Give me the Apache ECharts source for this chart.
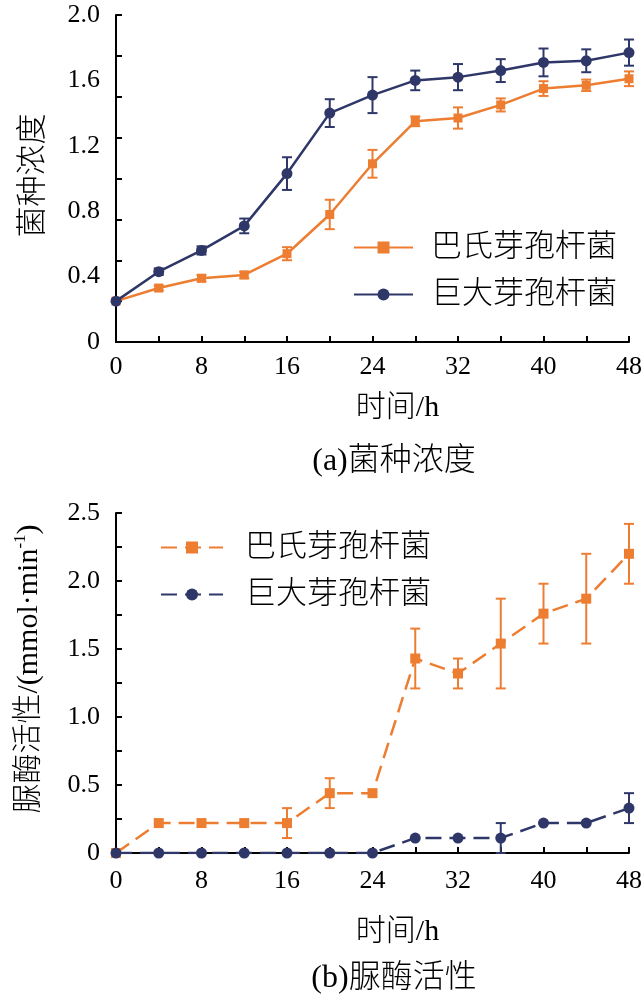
<!DOCTYPE html>
<html>
<head>
    <meta charset="utf-8">
    <title>菌种浓度与脲酶活性</title>
    <script src="https://cdn.jsdelivr.net/npm/echarts@6/dist/echarts.min.js"></script>
    <style>
        html, body { margin: 0; padding: 0; background: #fff; }
    </style>
</head>
<body>
    <div id="main" style="width: 644px; height: 1002px;"></div>
    <script type="text/javascript">
        var myChart = echarts.init(document.getElementById('main'));

        // 时间 (h)
        var hours = [0, 4, 8, 12, 16, 20, 24, 28, 32, 36, 40, 44, 48];
        var seriesNames = ['巴氏芽孢杆菌', '巨大芽孢杆菌'];

        // (a) 菌种浓度
        var growthPasteurii = [0.25, 0.33, 0.39, 0.41, 0.54, 0.78, 1.09, 1.35, 1.37, 1.45, 1.55, 1.57, 1.61];
        var growthPasteuriiErr = [0, 0.015, 0.02, 0.02, 0.04, 0.09, 0.085, 0.03, 0.065, 0.04, 0.045, 0.035, 0.045];
        var growthMegaterium = [0.25, 0.43, 0.56, 0.71, 1.03, 1.40, 1.51, 1.60, 1.62, 1.66, 1.71, 1.72, 1.77];
        var growthMegateriumErr = [0, 0.02, 0.025, 0.045, 0.10, 0.085, 0.11, 0.06, 0.08, 0.07, 0.085, 0.07, 0.08];

        // (b) 脲酶活性
        var ureasePasteurii = [0, 0.22, 0.22, 0.22, 0.22, 0.44, 0.44, 1.43, 1.32, 1.54, 1.76, 1.87, 2.20];
        var ureasePasteuriiErr = [0, 0, 0, 0, 0.11, 0.11, 0, 0.22, 0.11, 0.33, 0.22, 0.33, 0.22];
        var ureaseMegaterium = [0, 0, 0, 0, 0, 0, 0, 0.11, 0.11, 0.11, 0.22, 0.22, 0.33];
        var ureaseMegateriumErr = [0, 0, 0, 0, 0, 0, 0, 0, 0, 0.11, 0, 0, 0.11];

        var ORANGE = '#ED7D31';
        var NAVY = '#2E3768';
        var SERIF = "'Liberation Serif', 'Noto Sans CJK SC', serif";
        var CJK = "'Liberation Serif', 'Noto Sans CJK SC', sans-serif";

        function pairs(ys) {
            return hours.map(function (h, i) { return [h, ys[i]]; });
        }
        function errData(ys, es) {
            var out = [];
            hours.forEach(function (h, i) {
                if (es[i] > 0) out.push([h, ys[i], es[i]]);
            });
            return out;
        }
        function errRender(color) {
            return function (params, api) {
                var x = api.value(0), y = api.value(1), e = api.value(2);
                var hi = api.coord([x, y + e]);
                var lo = api.coord([x, y - e]);
                var w = 5;
                var st = { stroke: color, lineWidth: 2 };
                return {
                    type: 'group',
                    children: [
                        { type: 'line', shape: { x1: hi[0], y1: hi[1], x2: lo[0], y2: lo[1] }, style: st },
                        { type: 'line', shape: { x1: hi[0] - w, y1: hi[1], x2: hi[0] + w, y2: hi[1] }, style: st },
                        { type: 'line', shape: { x1: lo[0] - w, y1: lo[1], x2: lo[0] + w, y2: lo[1] }, style: st }
                    ]
                };
            };
        }
        function numFmt(v) {
            return v === 0 ? '0' : v.toFixed(1);
        }

        var labelStyle = { color: '#000', fontSize: 26, fontFamily: SERIF };
        var lineAx = { show: true, onZero: false, lineStyle: { color: '#000', width: 2 } };

        function xAxisFor(gi, gap, margin) {
            return {
                type: 'value', gridIndex: gi, min: 0, max: 48, interval: 8,
                axisLine: lineAx,
                axisTick: { show: true, inside: true, length: 6, lineStyle: { color: '#000', width: 2 } },
                minorTick: { show: true, splitNumber: 2, length: 6, lineStyle: { color: '#000', width: 2 } },
                axisLabel: Object.assign({ margin: margin }, labelStyle),
                splitLine: { show: false },
                name: '时间/h', nameLocation: 'middle', nameGap: gap,
                nameTextStyle: { color: '#000', fontSize: 30, fontFamily: CJK, fontWeight: 300, padding: [0, 0, 0, 50] }
            };
        }

        var option = {
            animation: false,
            backgroundColor: '#fff',
            textStyle: { fontFamily: CJK },
            grid: [
                { left: 116, right: 15, top: 15, height: 327, containLabel: false, outerBoundsMode: 'none' },
                { left: 116, right: 15, top: 513, height: 340, containLabel: false, outerBoundsMode: 'none' }
            ],
            xAxis: [xAxisFor(0, 51, 12), xAxisFor(1, 64, 15)],
            yAxis: [
                // (a) line + ticks every 0.25
                {
                    type: 'value', gridIndex: 0, min: 0, max: 2, interval: 0.25,
                    axisLine: lineAx,
                    axisTick: { show: true, inside: true, length: 6, lineStyle: { color: '#000', width: 2 } },
                    axisLabel: { show: false },
                    splitLine: { show: false },
                    name: '菌种浓度', nameLocation: 'middle', nameGap: 67, nameRotate: 90,
                    nameTextStyle: { color: '#000', fontSize: 31, fontFamily: CJK, fontWeight: 300, padding: [0, 0, 0, 6] }
                },
                // (a) labels every 0.4
                {
                    type: 'value', gridIndex: 0, min: 0, max: 2, interval: 0.4, position: 'left',
                    axisLine: { show: false }, axisTick: { show: false },
                    axisLabel: Object.assign({ margin: 16, formatter: numFmt }, labelStyle),
                    splitLine: { show: false }
                },
                // (b)
                {
                    type: 'value', gridIndex: 1, min: 0, max: 2.5, interval: 0.5,
                    axisLine: lineAx,
                    axisTick: { show: true, inside: true, length: 6, lineStyle: { color: '#000', width: 2 } },
                    minorTick: { show: true, splitNumber: 2, length: 6, lineStyle: { color: '#000', width: 2 } },
                    axisLabel: Object.assign({ margin: 16, formatter: numFmt }, labelStyle),
                    splitLine: { show: false },
                    name: '{a|脲酶活性/(mmol·min}{s|-1}{a|)}', nameLocation: 'middle', nameGap: 70, nameRotate: 90,
                    nameTextStyle: {
                        color: '#000', fontFamily: CJK, padding: [0, 0, 0, 28],
                        rich: {
                            a: { fontSize: 30, fontWeight: 300, color: '#000', fontFamily: CJK, lineHeight: 34 },
                            s: { fontSize: 17, color: '#000', fontFamily: SERIF, verticalAlign: 'top', lineHeight: 34 }
                        }
                    }
                }
            ],
            legend: [
                {
                    data: seriesNames.slice(),
                    orient: 'vertical', left: 348, top: 227,
                    itemWidth: 59, itemHeight: 15, itemGap: 16,
                    textStyle: { color: '#000', fontSize: 31, fontFamily: CJK, fontWeight: 300, padding: [0, 0, 0, 13] },
                    selectedMode: false
                },
                {
                    data: seriesNames.map(function (n) { return n + ' '; }),
                    orient: 'vertical', left: 155, top: 527,
                    itemWidth: 62, itemHeight: 15, itemGap: 16,
                    textStyle: { color: '#000', fontSize: 31, fontFamily: CJK, fontWeight: 300, padding: [0, 0, 0, 17] },
                    selectedMode: false,
                    formatter: function (n) { return n.replace(' ', ''); }
                }
            ],
            graphic: [
                {
                    type: 'text', x: 394, y: 462,
                    style: { text: '(a)菌种浓度', fill: '#000', fontSize: 32, fontFamily: CJK, fontWeight: 300, align: 'center', verticalAlign: 'middle' }
                },
                {
                    type: 'text', x: 394, y: 979,
                    style: { text: '(b)脲酶活性', fill: '#000', fontSize: 32, fontFamily: CJK, fontWeight: 300, align: 'center', verticalAlign: 'middle' }
                }
            ],
            series: [
                // (a)
                {
                    type: 'custom', name: 'errA1', xAxisIndex: 0, yAxisIndex: 0, z: 1,
                    renderItem: errRender(ORANGE), data: errData(growthPasteurii, growthPasteuriiErr)
                },
                {
                    type: 'custom', name: 'errA2', xAxisIndex: 0, yAxisIndex: 0, z: 1,
                    renderItem: errRender(NAVY), data: errData(growthMegaterium, growthMegateriumErr)
                },
                {
                    type: 'line', name: seriesNames[0], xAxisIndex: 0, yAxisIndex: 0, z: 2,
                    data: pairs(growthPasteurii),
                    symbol: 'rect', symbolSize: 9, showAllSymbol: true,
                    lineStyle: { color: ORANGE, width: 2.5 },
                    itemStyle: { color: ORANGE }
                },
                {
                    type: 'line', name: seriesNames[1], xAxisIndex: 0, yAxisIndex: 0, z: 3,
                    data: pairs(growthMegaterium),
                    symbol: 'circle', symbolSize: 11, showAllSymbol: true,
                    lineStyle: { color: NAVY, width: 2.5 },
                    itemStyle: { color: NAVY }
                },
                // (b)
                {
                    type: 'custom', name: 'errB1', xAxisIndex: 1, yAxisIndex: 2, z: 1,
                    renderItem: errRender(ORANGE), data: errData(ureasePasteurii, ureasePasteuriiErr)
                },
                {
                    type: 'custom', name: 'errB2', xAxisIndex: 1, yAxisIndex: 2, z: 1,
                    renderItem: errRender(NAVY), data: errData(ureaseMegaterium, ureaseMegateriumErr)
                },
                {
                    type: 'line', name: seriesNames[0] + ' ', xAxisIndex: 1, yAxisIndex: 2, z: 2,
                    data: pairs(ureasePasteurii),
                    symbol: 'rect', symbolSize: 10, showAllSymbol: true,
                    lineStyle: { color: ORANGE, width: 2.5, type: [16, 8] },
                    itemStyle: { color: ORANGE }
                },
                {
                    type: 'line', name: seriesNames[1] + ' ', xAxisIndex: 1, yAxisIndex: 2, z: 3,
                    data: pairs(ureaseMegaterium),
                    symbol: 'circle', symbolSize: 11, showAllSymbol: true,
                    lineStyle: { color: NAVY, width: 2.5, type: [16, 8] },
                    itemStyle: { color: NAVY }
                }
            ]
        };

        myChart.setOption(option);
    </script>
</body>
</html>
